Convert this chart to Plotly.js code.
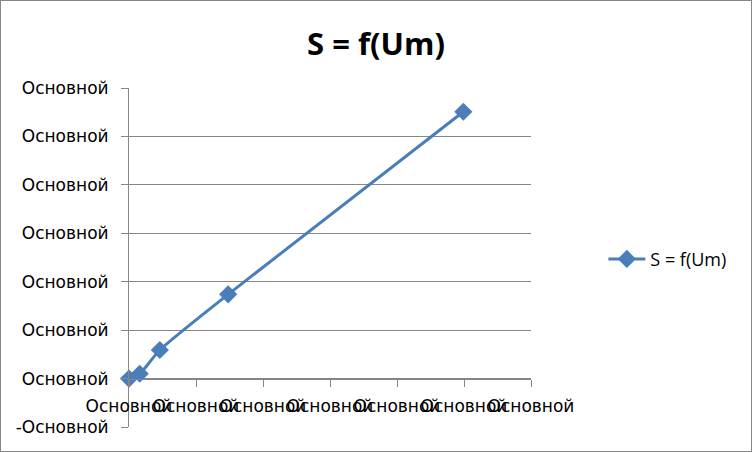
<!DOCTYPE html>
<html>
<head>
<meta charset="utf-8">
<script src="https://cdn.plot.ly/plotly-3.0.1.min.js"></script>
<style>
html,body{margin:0;padding:0;background:#fff;}
#chart{width:750px;height:450px;border:1px solid #868686;}
</style>
</head>
<body>
<div id="chart"></div>
<script>
var seriesName = "S = f(Um)";
var umValues = [0, 0.16, 0.46, 1.48, 4.99];
var sValues = [0, 0.1, 0.59, 1.74, 5.51];
var xTickVals = [0, 1, 2, 3, 4, 5, 6];
var xTickText = ["Основной","Основной","Основной","Основной","Основной","Основной","Основной"];
var yTickVals = [-1, 0, 1, 2, 3, 4, 5, 6];
var yTickText = ["-Основной","Основной","Основной","Основной","Основной","Основной","Основной","Основной"];

var tickFont = {family: "DejaVu Sans, Open Sans, sans-serif", size: 17, color: "#000"};

var trace = {
  x: umValues, y: sValues, type: "scatter", mode: "lines+markers",
  name: seriesName, cliponaxis: false,
  line: {color: "#4A7EBB", width: 3, shape: "spline", smoothing: 0.6},
  marker: {symbol: "diamond", size: 14, color: "#4A7EBB"}
};

var layout = {
  width: 750, height: 450,
  margin: {l: 128, r: 220, t: 87, b: 24},
  paper_bgcolor: "#fff", plot_bgcolor: "#fff",
  title: {text: "<b>S = f(Um)</b>", x: 0.5, xanchor: "center", y: 0.905, yanchor: "middle",
          font: {family: "Open Sans", size: 31, color: "#000"}},
  showlegend: true,
  legend: {x: 1.18, y: 0.495, xanchor: "left", yanchor: "middle", itemwidth: 37,
           font: {family: "Open Sans", size: 18, color: "#000"}, bgcolor: "rgba(0,0,0,0)"},
  xaxis: {range: [0, 6], tickvals: xTickVals, ticktext: xTickText, tickfont: tickFont,
          showgrid: false, zeroline: false, showline: true, linecolor: "#868686", linewidth: 1,
          ticks: "outside", ticklen: 7, tickcolor: "#868686", ticklabelstandoff: 5,
          anchor: "free", position: 1/7, tickangle: 0, automargin: false},
  yaxis: {range: [-1, 6], tickvals: yTickVals, ticktext: yTickText, tickfont: tickFont,
          showgrid: true, gridcolor: "#868686", gridwidth: 1, zeroline: false,
          showline: true, linecolor: "#868686", linewidth: 1, ticklabelstandoff: 9,
          ticks: "outside", ticklen: 7, tickcolor: "#868686", automargin: false}
};

Plotly.newPlot("chart", [trace], layout, {displayModeBar: false, staticPlot: true});
</script>
</body>
</html>
